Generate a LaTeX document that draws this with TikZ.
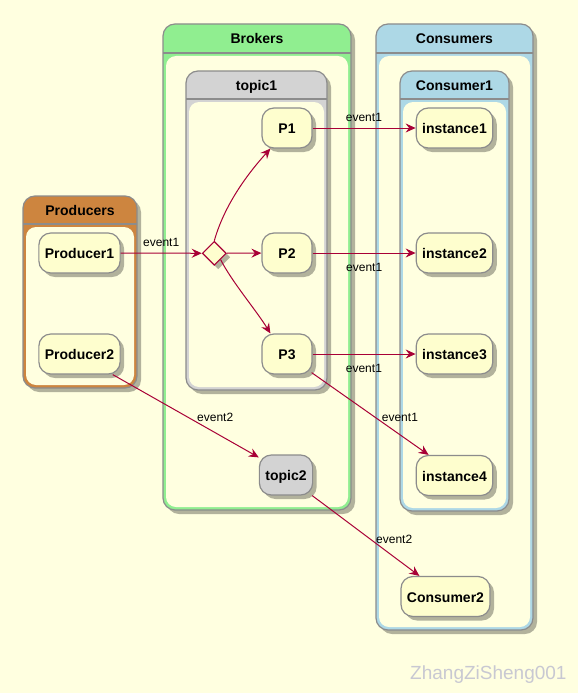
\documentclass[tikz,border=0pt]{standalone}
\usepackage{fontspec}
\setmainfont{Liberation Sans}
\usetikzlibrary{arrows.meta,shadows,shapes.geometric}
\definecolor{bg}{HTML}{FFFFE0}
\definecolor{nodefill}{HTML}{FEFECE}
\definecolor{edgecol}{HTML}{A80036}
\definecolor{bordergray}{HTML}{8C8C8C}
\definecolor{grpperu}{HTML}{CD853F}
\definecolor{grpgreen}{HTML}{90EE90}
\definecolor{grpblue}{HTML}{ADD8E6}
\definecolor{grpgray}{HTML}{D3D3D3}
\definecolor{wmark}{HTML}{C8C8D2}
\tikzset{
  myshadow/.style={drop shadow={shadow xshift=4pt,shadow yshift=-4pt,fill=black,opacity=.3}},
  statebox/.style={draw=bordergray,line width=1.2pt,fill=nodefill,rounded corners=12pt,
    minimum height=40pt,minimum width=50pt,inner xsep=6pt,inner ysep=0pt,
    text height=12pt,text depth=1pt,font=\bfseries\fontsize{14}{16}\selectfont,myshadow},
  choicebox/.style={diamond,draw=edgecol,line width=1.2pt,fill=nodefill,minimum width=24pt,
    minimum height=24pt,inner sep=0pt,myshadow},
  grptitle/.style={anchor=base,inner sep=0pt,font=\bfseries\fontsize{14}{16}\selectfont},
  lbl/.style={anchor=base west,inner sep=0pt,font=\fontsize{12}{14}\selectfont},
  flow/.style={draw=edgecol,line width=1pt,-{Stealth[length=10pt,width=9pt,inset=3.5pt]}},
}
\newcommand{\umlgrp}[8]{%
  \draw[bordergray,line width=1.2pt,fill=#3,rounded corners=12pt,myshadow] (#4,#5) rectangle (#6,#7);
  \fill[bg,rounded corners=10pt] (#4+3,#8+3) rectangle (#6-3,#7-3);
  \draw[bordergray,line width=1.2pt] (#4,#8) -- (#6,#8);
  \node[grptitle] (#1) at ({(#4+#6)/2},{(#5+#8)/2+5.5}) {#2};
}
\begin{document}
\begin{tikzpicture}[x=1pt,y=-1pt]
\fill[bg] (0,0) rectangle (578,693);
\useasboundingbox (0,0) rectangle (578,693);

% groups
\umlgrp{gprod}{Producers}{grpperu}{23}{196}{137}{388}{224}
\umlgrp{gbrok}{Brokers}{grpgreen}{163}{24}{351}{510}{53}
\umlgrp{gtopic}{topic1}{grpgray}{186}{71}{327}{390}{99}
\umlgrp{gcons}{Consumers}{grpblue}{376}{24}{533}{630}{53}
\umlgrp{gcons1}{Consumer1}{grpblue}{400}{71}{509}{511}{99}

% states
\node[statebox] (prod1) at (79.5,253) {Producer1};
\node[statebox] (prod2) at (79.5,354) {Producer2};
\node[choicebox] (d) at (214.3,253.3) {};
\node[statebox] (p1) at (287,128) {P1};
\node[statebox] (p2) at (287,253) {P2};
\node[statebox] (p3) at (287,354) {P3};
\node[statebox,fill=grpgray] (topic2) at (286,475) {topic2};
\node[statebox] (i1) at (454.5,128) {instance1};
\node[statebox] (i2) at (454.5,253) {instance2};
\node[statebox] (i3) at (454.5,354) {instance3};
\node[statebox] (i4) at (454.5,475.5) {instance4};
\node[statebox] (c2) at (445.5,596.5) {Consumer2};

% connectors
\draw[flow] (prod1) -- (d);
\draw[flow] (d) -- (p2);
\draw[flow] (d.north) .. controls (223,210) and (242,180) .. ([xshift=9pt]p1.south west);
\draw[flow] (d.south east) .. controls (232,282) and (256,310) .. ([xshift=9pt]p3.north west);
\draw[flow] (p1) -- (i1);
\draw[flow] (p2) -- (i2);
\draw[flow] (p3) -- (i3);
\draw[flow] ([xshift=-1pt,yshift=2pt]p3.south east) -- ([xshift=13pt]i4.north west);
\draw[flow] ([xshift=-8pt]prod2.south east) -- ([yshift=-3pt]topic2.north west);
\draw[flow] ([xshift=-1pt]topic2.south east) -- ([xshift=19pt]c2.north west);

% labels
\node[lbl] (l1) at (143,246.7) {event1};
\node[lbl] (l2) at (345.7,121.7) {event1};
\node[lbl] (l3) at (346,271.7) {event1};
\node[lbl] (l4) at (345.7,372.3) {event1};
\node[lbl] (l5) at (381.7,421.7) {event1};
\node[lbl] (l6) at (197,421.7) {event2};
\node[lbl] (l7) at (376,543) {event2};

% watermark
\node[anchor=base west,inner sep=0pt,font=\fontsize{19}{21}\selectfont,text=wmark] (wm) at (410,679) {ZhangZiSheng001};
\end{tikzpicture}
\end{document}
